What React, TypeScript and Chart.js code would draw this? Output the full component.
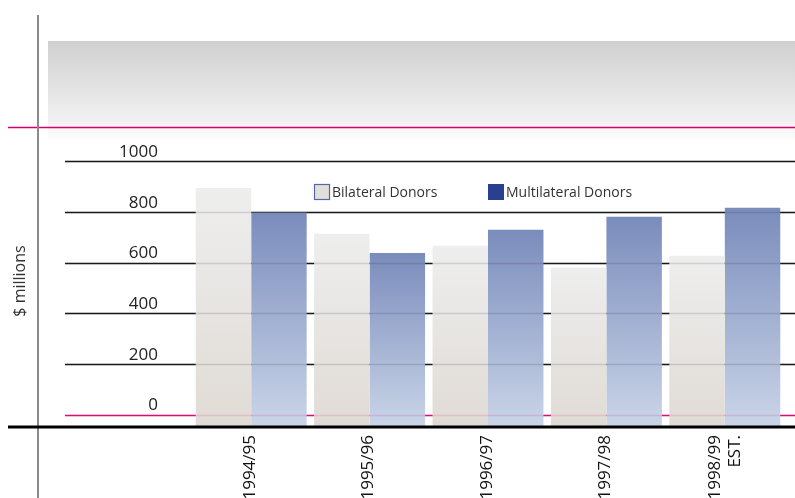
import { useEffect, useRef } from 'react';
import { Chart, registerables } from 'chart.js';
Chart.register(...registerables);

const categories: (string | string[])[] = ['1994/95', '1995/96', '1996/97', '1997/98', ['1998/99', 'EST.']];
const bilateral = [895, 714, 667, 581, 627];
const multilateral = [798, 638, 730, 781, 817];
const yTicks = [0, 200, 400, 600, 800, 1000];
const seriesNames = ['Bilateral Donors', 'Multilateral Donors'];
const yTitle = '$ millions';

const BASE = -45;
const YMAX = 1100;
const FONT = '"Open Sans", "Noto Sans", sans-serif';

function barGradient(ctx: any, top: string, bottom: string) {
  const chart = ctx.chart;
  if (!chart.chartArea || ctx.type !== 'data') return top;
  const y = chart.scales.y;
  const t = y.getPixelForValue(ctx.raw);
  const b = y.getPixelForValue(BASE);
  const g = chart.ctx.createLinearGradient(0, t, 0, b);
  g.addColorStop(0, top);
  g.addColorStop(1, bottom);
  return g;
}

function drawGrid(chart: any, alpha: number) {
  const c = chart.ctx;
  const y = chart.scales.y;
  c.save();
  c.globalAlpha = alpha;
  c.lineWidth = 1.3;
  for (const v of yTicks) {
    const py = Math.round(y.getPixelForValue(v)) + 0.5;
    c.strokeStyle = v === 0 ? '#d8107a' : '#1a1a1a';
    c.beginPath();
    c.moveTo(65, py);
    c.lineTo(chart.width, py);
    c.stroke();
  }
  c.restore();
}

const decor = {
  id: 'decor',
  beforeDraw(chart: any) {
    // shift x tick labels slightly (multi-line label centred on its group)
    const s = chart.scales.x;
    if (s && !s.__orig) {
      s.__orig = s.getPixelForTick;
      const orig = s.getPixelForTick.bind(s);
      s.getPixelForTick = (i: number) => orig(i) + (Array.isArray(categories[i]) ? -10 : -1);
      s._labelItems = null;
    }
    const c = chart.ctx;
    const W = chart.width;
    c.save();
    const g = c.createLinearGradient(0, 41, 0, 140);
    g.addColorStop(0, '#d0d0d0');
    g.addColorStop(0.55, '#e6e6e6');
    g.addColorStop(0.9, '#f6f6f6');
    g.addColorStop(1, '#fdfdfd');
    c.fillStyle = g;
    c.fillRect(48, 41, W - 48, 99);
    c.strokeStyle = '#d8006f';
    c.lineWidth = 1.5;
    c.beginPath();
    c.moveTo(8, 127.5);
    c.lineTo(W, 127.5);
    c.stroke();
    c.strokeStyle = '#8a8a8a';
    c.lineWidth = 2;
    c.beginPath();
    c.moveTo(38, 15);
    c.lineTo(38, chart.height);
    c.stroke();
    c.restore();
  },
  beforeDatasetsDraw(chart: any) {
    drawGrid(chart, 1);
  },
  afterDatasetsDraw(chart: any) {
    drawGrid(chart, 0.14);
    const c = chart.ctx;
    const y = chart.scales.y;
    const py = y.getPixelForValue(BASE) + 1;
    c.save();
    c.strokeStyle = '#000';
    c.lineWidth = 3;
    c.beginPath();
    c.moveTo(8, py);
    c.lineTo(chart.width, py);
    c.stroke();
    c.restore();
  },
  afterDraw(chart: any) {
    const s = chart.scales.x;
    if (s && s.__orig) {
      s.getPixelForTick = s.__orig;
      s.__orig = null;
    }
    const c = chart.ctx;
    c.save();
    const items = [
      { x: 314, fill: '#e2dfda', stroke: '#5468a8', text: seriesNames[0] },
      { x: 488, fill: '#2b3f8f', stroke: null, text: seriesNames[1] },
    ];
    c.font = `14px ${FONT}`;
    c.textBaseline = 'middle';
    c.textAlign = 'left';
    for (const it of items) {
      c.fillStyle = it.fill;
      c.fillRect(it.x, 184, 16, 16);
      if (it.stroke) {
        c.strokeStyle = it.stroke;
        c.lineWidth = 1.2;
        c.strokeRect(it.x + 0.5, 184.5, 15, 15);
      }
      c.fillStyle = '#333';
      c.fillText(it.text, it.x + 18, 193);
    }
    c.restore();
  },
};

export default function App() {
  const ref = useRef<HTMLCanvasElement>(null);
  useEffect(() => {
    const chart = new Chart(ref.current!, {
      type: 'bar',
      data: {
        labels: categories,
        datasets: [
          {
            label: seriesNames[0],
            data: bilateral,
            base: BASE,
            backgroundColor: (ctx: any) => barGradient(ctx, '#eeeeee', '#e0dbd5'),
            borderWidth: 0,
          },
          {
            label: seriesNames[1],
            data: multilateral,
            base: BASE,
            backgroundColor: (ctx: any) => barGradient(ctx, '#7a8cbc', '#cad5e8'),
            borderWidth: 0,
          },
        ] as any,
      },
      options: {
        animation: false,
        responsive: true,
        maintainAspectRatio: false,
        layout: { padding: { top: 136, right: 11, bottom: 0, left: 0 } },
        datasets: { bar: { categoryPercentage: 0.937, barPercentage: 1 } },
        plugins: { legend: { display: false }, tooltip: { enabled: false } },
        scales: {
          x: {
            grid: { display: false, drawTicks: false },
            border: { display: false },
            ticks: {
              minRotation: 90,
              maxRotation: 90,
              autoSkip: false,
              padding: 9,
              color: '#111',
              font: { family: FONT, size: 17, lineHeight: 1.18 },
            },
            afterFit: (s: any) => {
              s.height = 72;
            },
          },
          y: {
            min: BASE,
            max: YMAX,
            grid: { display: false, drawTicks: false },
            border: { display: false },
            title: {
              display: true,
              text: yTitle,
              color: '#333',
              font: { family: FONT, size: 16 },
              padding: { top: 11, bottom: 4 },
            },
            ticks: {
              padding: 34,
              labelOffset: -9,
              color: '#222',
              font: { family: FONT, size: 17 },
              callback: (v: any) => String(v),
            },
            afterBuildTicks: (s: any) => {
              s.ticks = yTicks.map((v) => ({ value: v }));
            },
            afterFit: (s: any) => {
              s.width = 192;
            },
          },
        },
      } as any,
      plugins: [decor],
    });
    return () => chart.destroy();
  }, []);
  return (
    <div style={{ position: 'absolute', left: 0, top: 0, width: 795, height: 498 }}>
      <canvas ref={ref} />
    </div>
  );
}
